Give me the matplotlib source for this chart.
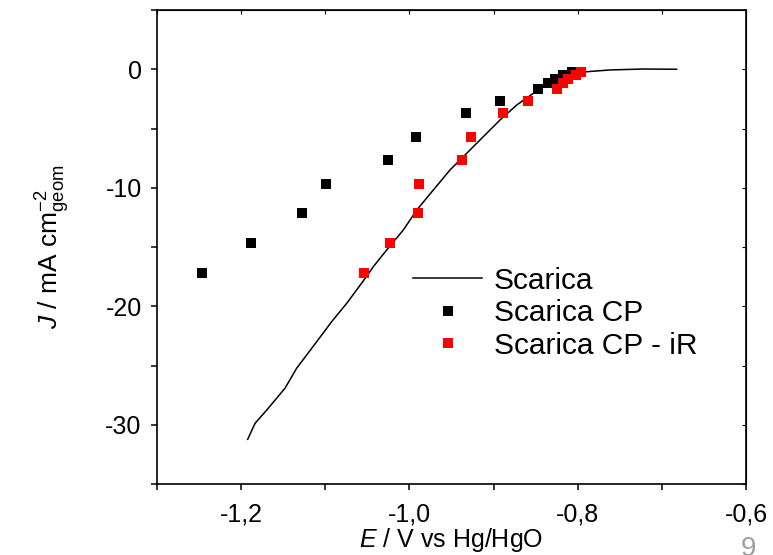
import matplotlib
matplotlib.use("Agg")
import matplotlib.pyplot as plt
from matplotlib.ticker import FuncFormatter, MultipleLocator

plt.rcParams['font.family'] = ['Liberation Sans', 'DejaVu Sans']
plt.rcParams['mathtext.fontset'] = 'custom'
plt.rcParams['mathtext.rm'] = 'Liberation Sans'
plt.rcParams['mathtext.it'] = 'Liberation Sans:italic'

# LSV curve
scan_E = [-1.1922, -1.1835, -1.1696, -1.1479, -1.1340, -1.1102, -1.0924, -1.0745,
          -1.0540, -1.0429, -1.0270, -1.0073, -0.9913, -0.9716, -0.9518, -0.9319,
          -0.9122, -0.8923, -0.8725, -0.8527, -0.8329, -0.8150, -0.8032, -0.7895,
          -0.7616, -0.7224, -0.6824]
scan_J = [-31.23, -29.88, -28.76, -26.92, -25.23, -22.99, -21.30, -19.75,
          -17.78, -16.66, -15.25, -13.57, -11.88, -10.19, -8.50, -7.09,
          -5.69, -4.28, -3.02, -2.03, -1.05, -0.57, -0.36, -0.21,
          -0.06, 0.02, 0.0]

# chronopotentiometry points
cp_J = [-17.17, -14.64, -12.16, -9.68, -7.66, -5.69, -3.67, -2.68, -1.67,
        -1.14, -0.82, -0.49, -0.26]
cp_E = [-1.2469, -1.1883, -1.1277, -1.0991, -1.0255, -0.9925, -0.9328, -0.8920,
        -0.8468, -0.8353, -0.8270, -0.8170, -0.8070]
cp_ir_E = [-1.0543, -1.0227, -0.9902, -0.9890, -0.9371, -0.9268, -0.8884, -0.8587,
           -0.8250, -0.8171, -0.8112, -0.8020, -0.7960]

fig = plt.figure(figsize=(7.73, 5.55), dpi=100)
ax = fig.add_axes([157 / 773, 1 - 484 / 555, 589 / 773, 474 / 555])

ax.plot(scan_E, scan_J, color='black', linewidth=1.1, label='Scarica')
ax.plot(cp_E, cp_J, 's', color='black', markersize=7.5, markeredgewidth=0, label='Scarica CP')
ax.plot(cp_ir_E, cp_J, 's', color='#ff0000', markersize=7.5, markeredgewidth=0,
        label='Scarica CP - iR')

ax.set_xlim(-1.3, -0.6)
ax.set_ylim(-35, 5)

comma = FuncFormatter(lambda v, p: ('%.1f' % v).replace('.', ','))
ax.xaxis.set_major_locator(MultipleLocator(0.2))
ax.xaxis.set_minor_locator(MultipleLocator(0.1))
ax.xaxis.set_major_formatter(comma)
ax.yaxis.set_major_locator(MultipleLocator(10))
ax.yaxis.set_minor_locator(MultipleLocator(5))
ax.yaxis.set_major_formatter(FuncFormatter(lambda v, p: '%d' % v))

ax.tick_params(which='both', direction='out', length=4, width=1.1, labelsize=18)
ax.tick_params(axis='x', pad=9)
ax.tick_params(axis='y', pad=7)
for s in ax.spines.values():
    s.set_linewidth(1.2)

top = ax.secondary_xaxis('top')
top.xaxis.set_major_locator(MultipleLocator(0.1))
top.tick_params(direction='in', length=3, width=0.8, labeltop=False)
right = ax.secondary_yaxis('right')
right.yaxis.set_major_locator(MultipleLocator(5))
right.tick_params(direction='in', length=3, width=0.8, labelright=False)

ax.set_xlabel('$E$ / V vs Hg/HgO', fontsize=18, labelpad=0)
ax.set_ylabel(r'$J$ / mA cm$^{-2}_{\mathrm{geom}}$', fontsize=19, labelpad=24)

ax.legend(loc='upper left', bbox_to_anchor=(0.41, 0.49), frameon=False, fontsize=21.5,
          handlelength=2.3, handletextpad=0.4, labelspacing=0.15, markerscale=1.0,
          borderpad=0)

fig.text(748 / 773, 1 - 536 / 555, '9', color='#a0a0a0', fontsize=20, ha='center', va='top')

fig.savefig('out.png', dpi=100)
